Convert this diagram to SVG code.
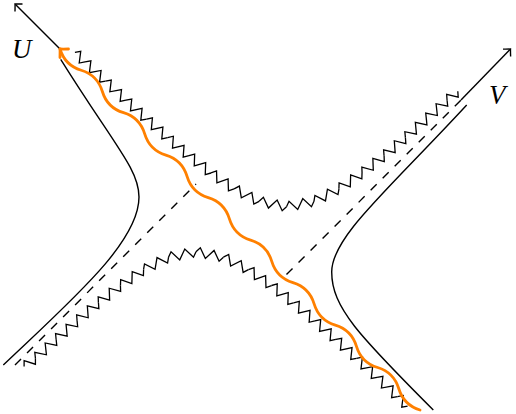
<svg xmlns="http://www.w3.org/2000/svg" width="516" height="414" viewBox="0 0 516 414">
<defs>
<style>
.ln{fill:none;stroke:#000;stroke-width:1.4}
.zz{fill:none;stroke:#000;stroke-width:1.3;stroke-linejoin:miter}
.da{fill:none;stroke:#000;stroke-width:1.4;stroke-dasharray:8.5 8.5}
.sh{fill:none;stroke:#ff8000;stroke-width:2.8;stroke-linecap:round;stroke-linejoin:round}
.lab{font-family:"Liberation Serif","DejaVu Serif",serif;font-style:italic;font-size:27px;fill:#000}
</style>
<path id="z1" d="M0,0 l3.5,-4.8 l7,9.6 l3.5,-4.8"/>
<path id="z2" d="M0,0 l3.5,-4.8 l7,9.6 l7,-9.6 l7,9.6 l3.5,-4.8"/>
<path id="ah" d="M5.3,-5.3 Q1.2,-1 0,0 Q1.2,1 5.3,5.3"/>
<g id="sing">
<use href="#z1" transform="translate(-211.59,-222.19) rotate(43.55)"/>
<use href="#z2" transform="translate(-201.45,-212.55) rotate(43.29)"/>
<use href="#z2" transform="translate(-181.07,-193.35) rotate(42.9)"/>
<use href="#z2" transform="translate(-160.57,-174.3) rotate(42.33)"/>
<use href="#z2" transform="translate(-139.87,-155.44) rotate(41.52)"/>
<use href="#z2" transform="translate(-118.91,-136.88) rotate(40.25)"/>
<use href="#z2" transform="translate(-97.55,-118.8) rotate(38.16)"/>
<use href="#z2" transform="translate(-75.57,-101.53) rotate(34.35)"/>
<use href="#z2" transform="translate(-52.41,-85.7) rotate(26.69)"/>
<use href="#z2" transform="translate(-27.45,-73.15) rotate(11.03)"/>
<use href="#z2" transform="translate(0,-67.8) rotate(-11.03)"/>
<use href="#z2" transform="translate(27.45,-73.15) rotate(-26.69)"/>
<use href="#z2" transform="translate(52.41,-85.7) rotate(-34.35)"/>
<use href="#z2" transform="translate(75.57,-101.53) rotate(-38.16)"/>
<use href="#z2" transform="translate(97.55,-118.8) rotate(-40.25)"/>
<use href="#z2" transform="translate(118.91,-136.88) rotate(-41.52)"/>
<use href="#z2" transform="translate(139.87,-155.44) rotate(-42.33)"/>
</g>
</defs>
<rect width="516" height="414" fill="#fff"/>

<g id="axis-U">
<path class="ln" d="M60,49 L15.5,4.5"/>
<use class="ln" href="#ah" transform="translate(15,4) rotate(45)"/>
<text class="lab" x="12" y="58">U</text>
</g>

<g id="axis-V">
<path class="ln" d="M461,100 L510,49.5"/>
<use class="ln" href="#ah" transform="translate(510.5,49) rotate(134)"/>
<text class="lab" x="489" y="103.5">V</text>
</g>

<g id="horizons">
<path class="da" d="M15,365 L196,184"/>
<path class="da" d="M286.5,274.5 L461,100"/>
</g>

<g id="left-boundary">
<path class="ln" d="M60.7,59.3 C114.4,145.3 139,169.3 139,197 C139,242 73.3,298.5 3.3,365"/>
</g>

<g id="right-boundary">
<path class="ln" d="M466.7,105 C386.7,191.6 331.7,237 331.7,272 C331.7,307 358.3,335 433.3,410"/>
</g>

<g id="top-singularity" class="zz">
<g transform="translate(286.5,274.5)">
<use href="#sing"/>
<use href="#z1" transform="translate(160.57,-174.3) rotate(-40)"/>
</g>
</g>

<g id="bottom-singularity" class="zz">
<g transform="translate(196,184) rotate(180)">
<use href="#sing"/>
<use href="#z1" transform="translate(160.57,-174.3) rotate(-36)"/>
</g>
</g>

<g id="shock-wave">
<g transform="translate(60,49) rotate(45.08)">
<path class="sh" d="M0,0 q15,8 29.99,0 t29.99,0 t29.99,0 t29.99,0 t29.99,0 t29.99,0 t29.99,0 t29.99,0 t29.99,0 t29.99,0 t29.99,0 t29.99,0 t29.99,0 t29.99,0 t29.99,0 t29.99,0 t29.99,0"/>
<path class="sh" d="M6,-6 Q1.4,-1.2 0,0 Q1.4,1.2 6,6"/>
</g>
</g>
</svg>
